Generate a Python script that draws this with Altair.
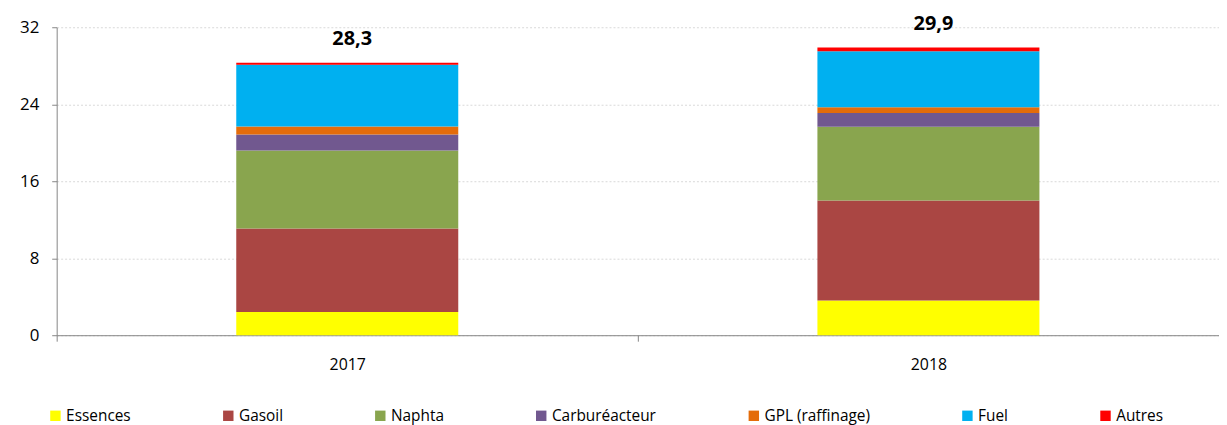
import altair as alt
import pandas as pd

years = ["2017", "2018"]
categories = ["Essences", "Gasoil", "Naphta", "Carburéacteur", "GPL (raffinage)", "Fuel", "Autres"]
colors = ["#FFFF00", "#AA4643", "#89A54E", "#71588F", "#E46C0A", "#00B0F0", "#FF0000"]
values_2017 = [2.4, 8.7, 8.1, 1.65, 0.85, 6.4, 0.2]
values_2018 = [3.6, 10.4, 7.65, 1.45, 0.6, 5.8, 0.4]
totals = [28.3, 29.9]

rows = []
for yr, vals in zip(years, [values_2017, values_2018]):
    for i, (c, v) in enumerate(zip(categories, vals)):
        rows.append({"year": yr, "cat": c, "value": v, "order": i})
df = pd.DataFrame(rows)
tot = pd.DataFrame({"year": years, "total": totals})

FONT = "Open Sans"

xenc = alt.X("year:N", title=None,
             scale=alt.Scale(paddingInner=0, paddingOuter=0),
             axis=alt.Axis(labelAngle=0, labelFontSize=16, labelColor="#000000",
                           labelFont=FONT, domainColor="#868686", tickColor="#868686",
                           tickSize=6, labelPadding=16, tickBand="extent", grid=False))

bars = alt.Chart(df).mark_bar(width={"band": 0.382}).encode(
    x=xenc,
    y=alt.Y("value:Q", stack="zero", title=None,
            scale=alt.Scale(domain=[0, 32], nice=False),
            axis=alt.Axis(values=[0, 8, 16, 24, 32], labelFontSize=17, labelColor="#000000",
                          labelFont=FONT, domainColor="#868686", tickColor="#868686",
                          tickSize=5, labelPadding=13, gridColor="#D9D9D9",
                          gridDash=[2, 2], gridWidth=1)),
    color=alt.Color("cat:N", scale=alt.Scale(domain=categories, range=colors),
                    legend=alt.Legend(title=None, orient="none", direction="horizontal",
                                      columns=7, columnPadding=90, legendX=-9, legendY=383,
                                      symbolType="square", symbolSize=110,
                                      symbolStrokeWidth=0, labelFontSize=15.5,
                                      labelFont=FONT, labelColor="#000000", labelOffset=3)),
    order=alt.Order("order:Q"),
)

labels = alt.Chart(tot).transform_calculate(
    lab="replace(format(datum.total, '.1f'), '.', ',')"
).mark_text(fontSize=20, fontWeight="bold", font=FONT, baseline="bottom", dy=-14, dx=5,
            color="#000000").encode(
    x=alt.X("year:N"),
    y=alt.Y("total:Q"),
    text="lab:N",
)

chart = (bars + labels).properties(
    width=1170, height=310,
    autosize=alt.AutoSizeParams(type="none"),
    padding={"left": 49, "top": 18, "right": 0, "bottom": 89},
).configure_view(stroke=None).configure_axis(labelFont=FONT)

chart.save("out.html", embed_options={"renderer": "svg", "actions": False})
